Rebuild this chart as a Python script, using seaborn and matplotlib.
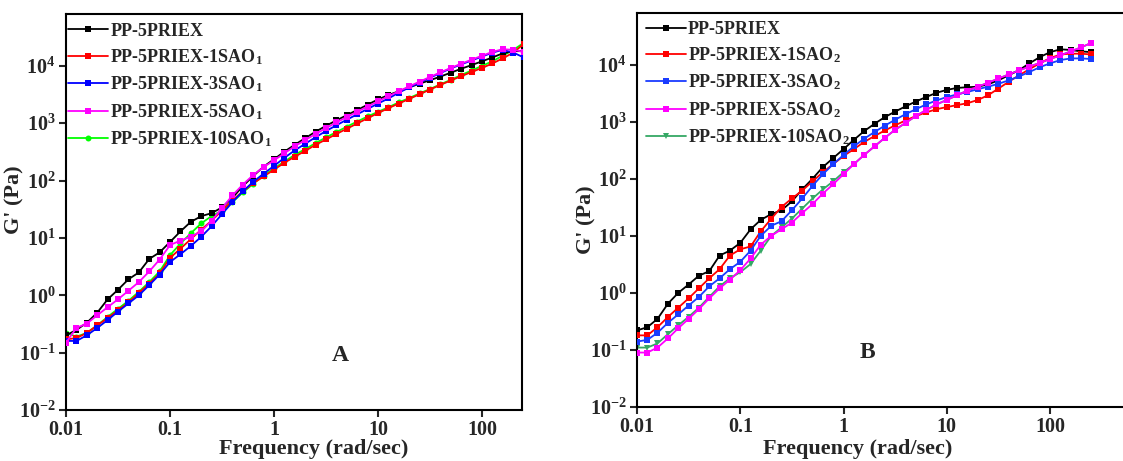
import numpy as np
import pandas as pd
import seaborn as sb
import matplotlib
matplotlib.use("Agg")
import matplotlib.pyplot as plt
from matplotlib.ticker import LogLocator, FixedLocator, FixedFormatter, NullLocator

sb.set_style("ticks")
plt.rcParams['font.family'] = ['Liberation Serif', 'DejaVu Serif']
plt.rcParams['font.weight'] = 'bold'
plt.rcParams['mathtext.default'] = 'regular'
plt.rcParams['axes.unicode_minus'] = False

# frequency sweep (rad/sec)
freq = [0.01, 0.0126, 0.0158, 0.02, 0.0251, 0.0316, 0.0398, 0.0501, 0.0631, 0.0794,
        0.1, 0.126, 0.158, 0.2, 0.251, 0.316, 0.398, 0.501, 0.631, 0.794,
        1, 1.26, 1.58, 2, 2.51, 3.16, 3.98, 5.01, 6.31, 7.94,
        10, 12.6, 15.8, 20, 25.1, 31.6, 39.8, 50.1, 63.1, 79.4,
        100, 126, 158, 200, 251]

# ---- panel A : G' (Pa) ----
a_base = [0.20, 0.25, 0.33, 0.50, 0.85, 1.25, 1.9, 2.5, 4.3, 5.6,
          8.5, 13, 19, 24, 27, 34, 50, 80, 120, 175,
          235, 320, 420, 550, 710, 900, 1120, 1380, 1700, 2100,
          2600, 3100, 3600, 4200, 4900, 5600, 6500, 7600, 8900, 10300,
          12000, 14000, 16500, 18000, 18000]
a_1sao = [0.17, 0.18, 0.22, 0.30, 0.40, 0.55, 0.75, 1.1, 1.6, 2.4,
          4.5, 6.5, 9.5, 14, 20, 30, 45, 65, 90, 118,
          155, 205, 260, 330, 420, 520, 650, 800, 990, 1220,
          1500, 1830, 2200, 2650, 3200, 3850, 4650, 5550, 6600, 7800,
          9200, 11000, 13500, 17000, 24000]
a_3sao = [0.16, 0.16, 0.20, 0.27, 0.37, 0.52, 0.72, 1.0, 1.5, 2.3,
          3.8, 5.2, 7.2, 10.5, 16, 26, 42, 65, 95, 132,
          180, 250, 335, 440, 570, 730, 920, 1150, 1430, 1770,
          2200, 2700, 3400, 4200, 5100, 6200, 7500, 9000, 10600, 12400,
          14500, 17000, 19000, 17000, 14000]
a_5sao = [0.15, 0.27, 0.32, 0.45, 0.62, 0.85, 1.2, 1.7, 2.6, 4.2,
          7.5, 9.0, 10.5, 13, 20, 33, 55, 85, 125, 172,
          225, 300, 395, 510, 650, 820, 1030, 1280, 1580, 1950,
          2400, 2950, 3600, 4400, 5300, 6400, 7700, 9200, 10900, 12800,
          15000, 17500, 19500, 19000, 17500]
a_10sao = [0.22, 0.19, 0.22, 0.30, 0.42, 0.58, 0.80, 1.15, 1.7, 2.6,
           5.0, 8.0, 12, 18, 24, 30, 42, 62, 88, 122,
           163, 215, 280, 355, 450, 565, 700, 870, 1070, 1310,
           1580, 1900, 2300, 2750, 3300, 3950, 4750, 5700, 6900, 8300,
           10000, 12000, 15000, 19000, 25000]

# ---- panel B : G' (Pa) ----
b_base = [0.22, 0.25, 0.35, 0.65, 1.0, 1.4, 2.0, 2.4, 4.5, 5.5,
          7.5, 13, 19, 24, 28, 40, 65, 100, 160, 230,
          330, 480, 680, 920, 1200, 1500, 1850, 2250, 2700, 3200,
          3600, 3900, 4000, 4100, 4500, 5300, 6500, 8000, 10500, 13500,
          16500, 18500, 18000, 17000, 16500]
b_1sao = [0.18, 0.18, 0.25, 0.38, 0.55, 0.80, 1.2, 1.8, 2.6, 4.5,
          5.8, 6.5, 12, 20, 32, 45, 62, 90, 130, 180,
          250, 330, 440, 560, 700, 860, 1050, 1250, 1450, 1650,
          1800, 1950, 2100, 2400, 2900, 3800, 5000, 6500, 8300, 10500,
          13000, 15000, 15500, 15500, 15000]
b_3sao = [0.14, 0.15, 0.20, 0.30, 0.42, 0.60, 0.85, 1.3, 1.8, 2.6,
          3.5, 5.5, 10, 15, 18, 28, 45, 75, 120, 180,
          260, 370, 500, 660, 850, 1080, 1350, 1650, 2000, 2350,
          2700, 3000, 3300, 3700, 4100, 4600, 5300, 6200, 7400, 9000,
          10500, 12000, 12800, 12800, 12500]
b_5sao = [0.09, 0.09, 0.11, 0.16, 0.24, 0.35, 0.52, 0.80, 1.2, 1.7,
          2.5, 4.0, 7.0, 10, 13, 17, 25, 36, 55, 80,
          120, 180, 260, 370, 520, 720, 950, 1250, 1600, 2000,
          2400, 2900, 3500, 4100, 4800, 5700, 6700, 7900, 9200, 10700,
          12500, 14500, 17000, 20000, 24000]
b_10sao = [0.11, 0.11, 0.13, 0.19, 0.27, 0.38, 0.55, 0.85, 1.3, 1.8,
           2.3, 3.2, 5.5, 10, 14, 20, 30, 45, 65, 90,
           130, 180, 260, 370, 520, 720, 950, 1250, 1600, 2000,
           2400, 2900, 3500, 4100, 4800, 5700, 6700, 7900, 9200, 10700,
           12500, 14500, 17000, 20000, 24000]

names_a = ["PP-5PRIEX", "PP-5PRIEX-1SAO$_1$", "PP-5PRIEX-3SAO$_1$",
           "PP-5PRIEX-5SAO$_1$", "PP-5PRIEX-10SAO$_1$"]
names_b = ["PP-5PRIEX", "PP-5PRIEX-1SAO$_2$", "PP-5PRIEX-3SAO$_2$",
           "PP-5PRIEX-5SAO$_2$", "PP-5PRIEX-10SAO$_2$"]

colors_a = ["black", "#ff0000", "#0000ff", "#ff00ff", "#00ff00"]
colors_b = ["black", "#ff0000", "#1a3cff", "#ff00ff", "#35a865"]
markers_a = ["s", "s", "s", "s", "o"]
markers_b = ["s", "s", "s", "s", "v"]

fig = plt.figure(figsize=(11.23, 4.61), dpi=100)
axA = fig.add_axes([0.0588, 0.1106, 0.4060, 0.859])
axB = fig.add_axes([0.5672, 0.1171, 0.4390, 0.8547])


def panel(ax, series, names, colors, markers, xmax, tag, tagx,
          xlab_pos, ylab_pos, leg_anchor):
    for i, (vals, nm, c, m) in enumerate(zip(series, names, colors, markers)):
        sb.lineplot(x=freq, y=vals, ax=ax, color=c, marker=m, markersize=4.3,
                    markeredgewidth=0, linewidth=1.3, label=nm,
                    zorder=3 if i < 4 else 2.5)
    ax.set_xscale("log")
    ax.set_yscale("log")
    ax.set_xlim(0.01, xmax)
    ax.set_ylim(0.01, 8e4)
    ax.xaxis.set_major_locator(FixedLocator([0.01, 0.1, 1, 10, 100]))
    ax.xaxis.set_major_formatter(FixedFormatter(["0.01", "0.1", "1", "10", "100"]))
    ax.xaxis.set_minor_locator(NullLocator())
    ax.yaxis.set_major_locator(LogLocator(base=10, numticks=10))
    ax.yaxis.set_minor_locator(NullLocator())
    ax.tick_params(direction="out", length=5, width=1.5, labelsize=14.5)
    ax.tick_params(axis="x", pad=2)
    ax.tick_params(axis="y", pad=2.5)
    for s in ax.spines.values():
        s.set_linewidth(1.5)
        s.set_color("black")
    ax.set_xlabel("Frequency (rad/sec)", fontsize=16, fontweight="bold", va="baseline")
    ax.xaxis.set_label_coords(*xlab_pos)
    ax.set_ylabel("G' (Pa)", fontsize=16, fontweight="bold", va="center")
    ax.yaxis.set_label_coords(*ylab_pos)
    ax.text(tagx, 0.09, tag, fontsize=17, fontweight="bold", ha="center", va="center")
    ax.legend(loc="upper left", bbox_to_anchor=leg_anchor, frameon=False,
              fontsize=13, handlelength=2.2, handletextpad=0.12, labelspacing=0.42,
              borderaxespad=0, borderpad=0, numpoints=1)


panel(axA, [a_base, a_1sao, a_3sao, a_5sao, a_10sao], names_a, colors_a,
      markers_a, 242, "A", 4.3, (0.544, -0.111), (-0.112, 0.53), (0.005, 0.978))
panel(axB, [b_base, b_1sao, b_3sao, b_5sao, b_10sao], names_b, colors_b,
      markers_b, 593, "B", 1.7, (0.448, -0.118), (-0.103, 0.475), (0.018, 0.98))

fig.savefig("out.png", dpi=100)
